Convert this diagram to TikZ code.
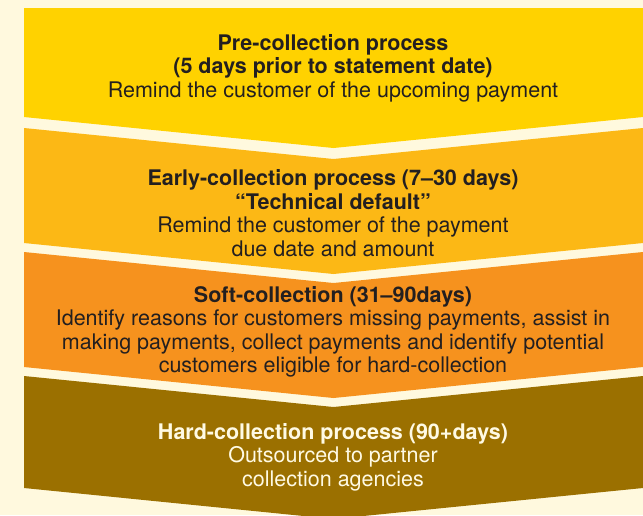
\documentclass[tikz,border=0pt]{standalone}
\usepackage{fontspec}
\setmainfont{TeX Gyre Heros}
\definecolor{bgc}{RGB}{255,249,222}
\definecolor{bandA}{RGB}{255,210,0}
\definecolor{bandB}{RGB}{252,184,21}
\definecolor{bandC}{RGB}{246,146,30}
\definecolor{bandD}{RGB}{155,112,0}
\definecolor{txt}{RGB}{35,31,32}
\definecolor{lighttxt}{RGB}{255,250,228}
\tikzset{
  lbl/.style={align=center, text=txt, inner sep=0pt,
    font=\fontsize{21.5}{23.5}\selectfont},
}
\begin{document}
\begin{tikzpicture}[x=1pt,y=-1pt]
\fill[bgc] (0,0) rectangle (643,515);
\useasboundingbox (0,0) rectangle (643,515);
\fill[bandA] (24,8) -- (643,8) -- (643,117) -- (333.5,148) -- (24,117) -- cycle;
\fill[bandB] (24,128) -- (333.5,159) -- (643,128) -- (643,243) -- (333.5,274) -- (24,243) -- cycle;
\fill[bandC] (24,252) -- (333.5,283) -- (643,252) -- (643,367) -- (333.5,398) -- (24,367) -- cycle;
\fill[bandD] (24,376) -- (333.5,407) -- (643,376) -- (643,488) -- (333.5,519) -- (24,488) -- cycle;
\node[lbl] (t1) at (333,68) {\textbf{Pre-collection process}\\\textbf{(5 days prior to statement date)}\\Remind the customer of the upcoming payment};
\node[lbl] (t2) at (333,213) {\textbf{Early-collection process (7–30 days)}\\\textbf{“Technical default”}\\Remind the customer of the payment\\due date and amount};
\node[lbl] (t3) at (333,332) {\textbf{Soft-collection (31–90days)}\\Identify reasons for customers missing payments, assist in\\making payments, collect payments and identify potential\\customers eligible for hard-collection};
\node[lbl, text=lighttxt] (t4) at (333,457) {\textbf{Hard-collection process (90+days)}\\Outsourced to partner\\collection agencies};
\end{tikzpicture}
\end{document}
